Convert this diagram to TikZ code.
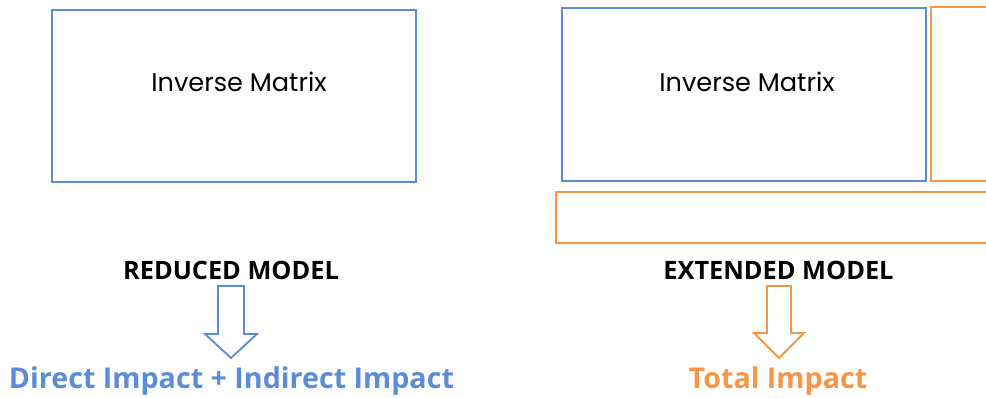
\documentclass[tikz,border=0pt]{standalone}
\usepackage{fontspec}
\setmainfont{Poppins}
\newfontfamily\labelfont{Open Sans}
\usetikzlibrary{positioning}
\definecolor{mblue}{HTML}{5B8DD6}
\definecolor{morange}{HTML}{F79646}
\tikzset{
  matbox/.style={draw, line width=2pt, rectangle},
  bluebox/.style={matbox, draw=mblue},
  orangebox/.style={matbox, draw=morange},
  matlabel/.style={font=\fontsize{19.2}{22}\selectfont, text=black},
  modellabel/.style={font=\labelfont\bfseries\fontsize{19}{22}\selectfont, text=black},
  impactlabel/.style={font=\labelfont\bfseries\fontsize{21.5}{24}\selectfont},
  hollowarrow/.style={line width=1.4pt, fill=white, line join=miter}
}
\begin{document}
\begin{tikzpicture}[x=0.75pt, y=-0.75pt]
  \useasboundingbox (0,0) rectangle (986,398);

  % reduced model
  \draw[bluebox] (52,10) rectangle (416,182);
  \node[matlabel] (invA) at (239,82) {Inverse Matrix};
  \node[modellabel] (redA) at (231,270) {REDUCED MODEL};
  \draw[hollowarrow, draw=mblue]
    (218,286) -- (244,286) -- (244,334) -- (257,334) -- (231,358)
    -- (205,334) -- (218,334) -- cycle;
  \node[impactlabel, text=mblue] (impA) at (231.5,381) {Direct Impact + Indirect Impact};

  % extended model
  \draw[orangebox] (931,7) rectangle (1000,181);
  \draw[orangebox] (556,192) rectangle (1000,243);
  \draw[bluebox] (562,8) rectangle (926,181);
  \node[matlabel] (invB) at (747,82) {Inverse Matrix};
  \node[modellabel] (extB) at (778.5,270) {EXTENDED MODEL};
  \draw[hollowarrow, draw=morange]
    (767,286) -- (791,286) -- (791,333) -- (804,333) -- (779,358)
    -- (754,333) -- (767,333) -- cycle;
  \node[impactlabel, text=morange] (impB) at (778,381) {Total Impact};
\end{tikzpicture}
\end{document}
